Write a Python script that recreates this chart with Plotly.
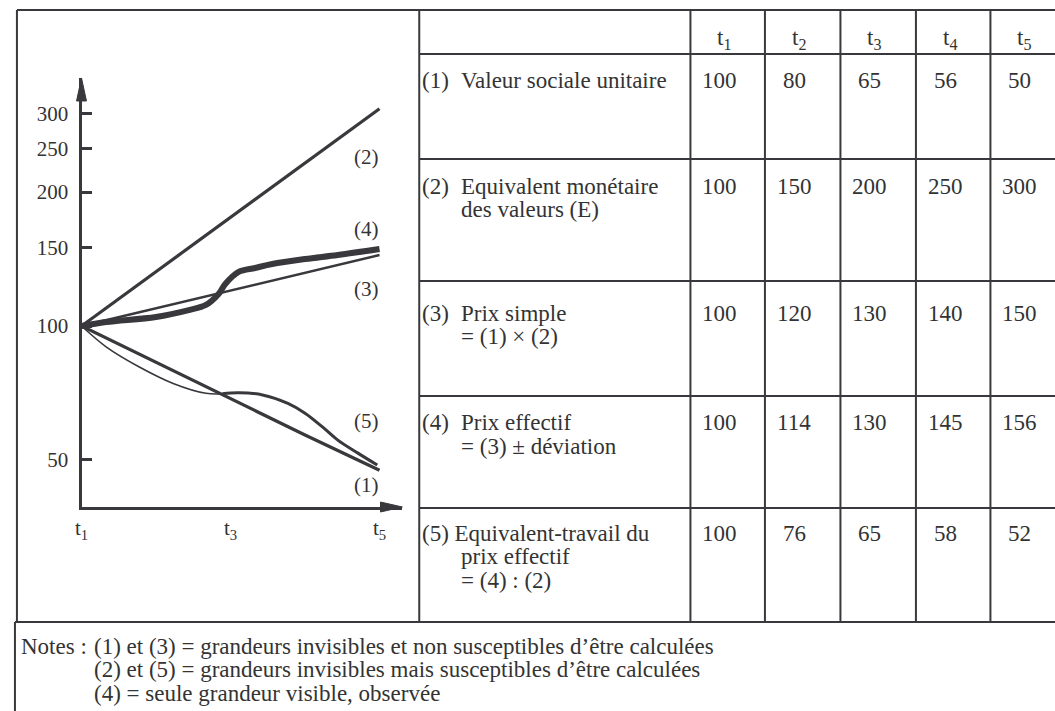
import plotly.graph_objects as go

# ---------------- data ----------------
periods = ["t<sub>1</sub>", "t<sub>2</sub>", "t<sub>3</sub>", "t<sub>4</sub>", "t<sub>5</sub>"]
row_nums = ["(1)", "(2)", "(3)", "(4)", "(5)"]
row_titles = [
    ["Valeur sociale unitaire"],
    ["Equivalent monétaire", "des valeurs (E)"],
    ["Prix simple", "= (1) × (2)"],
    ["Prix effectif", "= (3) ± déviation"],
    ["Equivalent-travail du", "prix effectif", "= (4) : (2)"],
]
valeur_sociale = [100, 80, 65, 56, 50]
equivalent_monetaire = [100, 150, 200, 250, 300]
prix_simple = [100, 120, 130, 140, 150]
prix_effectif = [100, 114, 130, 145, 156]
equivalent_travail = [100, 76, 65, 58, 52]
table_values = [valeur_sociale, equivalent_monetaire, prix_simple, prix_effectif, equivalent_travail]

notes_head = "Notes :"
notes_lines = [
    "(1) et (3) = grandeurs invisibles et non susceptibles d’être calculées",
    "(2) et (5) = grandeurs invisibles mais susceptibles d’être calculées",
    "(4) = seule grandeur visible, observée",
]

# schematic curves as drawn in the left panel
t_line = [1, 2, 3, 4, 5]
curve1 = [100, 82.8, 68.6, 56.9, 47.4]
curve2 = [100, 132.4, 175.4, 232.4, 307.8]
curve3 = [100, 109.6, 120.2, 131.7, 144.4]
t_curve4 = [1, 1.33, 2, 2.44, 2.67, 2.84, 2.93, 3.11, 3.33, 3.56, 4, 4.44, 5]
curve4 = [100, 102.1, 104.8, 108.6, 111.5, 118.0, 124.3, 132.3, 135.0, 137.8, 141.4, 144.4, 148.9]
t_curve5 = [1, 1.33, 1.77, 2.23, 2.67, 2.89, 3.11, 3.43, 3.77, 4, 4.23, 4.44, 4.71, 4.97]
curve5 = [100, 89.8, 81.0, 74.3, 70.6, 70.4, 70.8, 70.0, 67.0, 63.7, 59.4, 55.4, 51.8, 48.7]
curve_names = ["(1)", "(2)", "(3)", "(4)", "(5)"]
y_ticks = [50, 100, 150, 200, 250, 300]
x_tickvals = [1, 3, 5]
x_ticktext = ["t<sub>1</sub>", "t<sub>3</sub>", "t<sub>5</sub>"]

# ---------------- layout helpers ----------------
W, H = 1055, 711
INK = "#38383d"
TXT = "#333333"
FONT = "'Liberation Serif', Tinos, 'Times New Roman', Times, serif"
TS = 23      # table text size
NS = 23      # notes text size
CS = 21      # chart text size


def px(x):
    return x / W


def py(y):
    return 1 - y / H


fig = go.Figure()

fig.add_trace(go.Scatter(x=t_line, y=curve2, mode="lines", name=curve_names[1],
                         line=dict(color=INK, width=3.2)))
fig.add_trace(go.Scatter(x=t_line, y=curve3, mode="lines", name=curve_names[2],
                         line=dict(color=INK, width=2.4)))
fig.add_trace(go.Scatter(x=t_line, y=curve1, mode="lines", name=curve_names[0],
                         line=dict(color=INK, width=3.2)))
split5 = 5  # curve (5) is drawn thin first, then heavier
fig.add_trace(go.Scatter(x=t_curve5[:split5 + 1], y=curve5[:split5 + 1], mode="lines",
                         name=curve_names[4],
                         line=dict(color=INK, width=1.6, shape="spline", smoothing=1.0)))
fig.add_trace(go.Scatter(x=t_curve5[split5:], y=curve5[split5:], mode="lines",
                         name=curve_names[4], showlegend=False,
                         line=dict(color=INK, width=3.0, shape="spline", smoothing=1.0)))
fig.add_trace(go.Scatter(x=t_curve4, y=curve4, mode="lines", name=curve_names[3],
                         line=dict(color=INK, width=6, shape="spline", smoothing=1.0)))

# axis geometry (pixels)
AX_L, AX_R, AX_T, AX_B = 75, 398, 78, 507
XPU = 75.0  # pixels per period
x_range = [1, 1 + (AX_R - AX_L) / XPU]
LOG_A, LOG_B = 1216.0, 445.0  # pixel = A - B*log10(v)
y_range = [(LOG_A - AX_B) / LOG_B, (LOG_A - AX_T) / LOG_B]

fig.update_layout(
    width=W, height=H, autosize=False,
    margin=dict(l=0, r=0, t=0, b=0),
    paper_bgcolor="white", plot_bgcolor="white",
    showlegend=False,
    font=dict(family=FONT, size=CS, color=TXT),
    xaxis=dict(domain=[px(AX_L), px(AX_R)], range=x_range, tickvals=x_tickvals,
               ticktext=x_ticktext, showgrid=False, zeroline=False, showline=True,
               linewidth=3, linecolor=INK, ticks="", ticklabelstandoff=0,
               tickfont=dict(family=FONT, size=CS, color=TXT), fixedrange=True),
    yaxis=dict(domain=[py(AX_B), py(AX_T)], type="log", range=y_range, tickvals=y_ticks,
               ticktext=[str(v) for v in y_ticks], showgrid=False, zeroline=False,
               showline=True, linewidth=3, linecolor=INK, ticks="inside", ticklen=10,
               tickwidth=3, tickcolor=INK, ticklabelstandoff=6,
               tickfont=dict(family=FONT, size=CS, color=TXT), fixedrange=True),
)

shapes = []


def hline(y, x0, x1, w=2):
    shapes.append(dict(type="line", xref="paper", yref="paper", x0=px(x0), x1=px(x1),
                       y0=py(y), y1=py(y), line=dict(color=INK, width=w)))


def vline(x, y0, y1, w=2):
    shapes.append(dict(type="line", xref="paper", yref="paper", x0=px(x), x1=px(x),
                       y0=py(y0), y1=py(y1), line=dict(color=INK, width=w)))


def tri(pts):
    d = "M " + " L ".join(f"{px(a):.5f},{py(b):.5f}" for a, b in pts) + " Z"
    shapes.append(dict(type="path", xref="paper", yref="paper", path=d,
                       fillcolor=INK, line=dict(color=INK, width=1)))


TOP, TBL_L, TBL_B = 10, 415, 622
row_lines = [54, 159, 281, 396, 508]
col_lines = [688, 763, 839, 915, 990]

hline(TOP, 10, W)
vline(10, TOP, TBL_B)
vline(TBL_L, TOP, TBL_B)
for y in row_lines:
    hline(y, TBL_L, W)
for x in col_lines:
    vline(x, TOP, TBL_B)
hline(TBL_B, 8, W)
vline(8, TBL_B, H)

# arrow heads of the axes
tri([(AX_L, AX_T), (AX_L - 5, AX_T + 23), (AX_L + 5, AX_T + 23)])
tri([(AX_R, AX_B), (AX_R - 22, AX_B - 5), (AX_R - 22, AX_B + 5)])

fig.update_layout(shapes=shapes)

ann = []


def text(x, y, s, xanchor="left", size=TS):
    ann.append(dict(x=px(x), y=py(y), xref="paper", yref="paper", text=s, showarrow=False,
                    xanchor=xanchor, yanchor="middle", align="left",
                    font=dict(family=FONT, size=size, color=TXT)))


# header
for i, p in enumerate(periods):
    text(col_lines[i] + 34, 39, p, xanchor="center")

# rows
LINE_H = 23.5
row_text_y = [81, 186, 313, 423, 533]
for r in range(5):
    y0 = row_text_y[r]
    titles = row_titles[r]
    if r == 4:
        text(416, y0, row_nums[r] + " " + titles[0])
    else:
        text(416, y0, row_nums[r])
        text(455, y0, titles[0])
    for k, s in enumerate(titles[1:], start=1):
        text(455, y0 + k * LINE_H, s)
    for c, v in enumerate(table_values[r]):
        text(col_lines[c] + 29.5, y0, str(v), xanchor="center")

# curve labels in the drawing
label_pos = {"(2)": 157, "(4)": 229, "(3)": 289, "(5)": 421, "(1)": 485}
for name, y in label_pos.items():
    text(362, y, name, xanchor="center", size=CS)

# notes
text(12, 646, notes_head, size=NS)
for k, s in enumerate(notes_lines):
    text(86, 646 + k * LINE_H, s, size=NS)

fig.update_layout(annotations=ann)

fig.write_html("out.html", config={"displayModeBar": False},
               post_script="document.body.style.margin='0';")
